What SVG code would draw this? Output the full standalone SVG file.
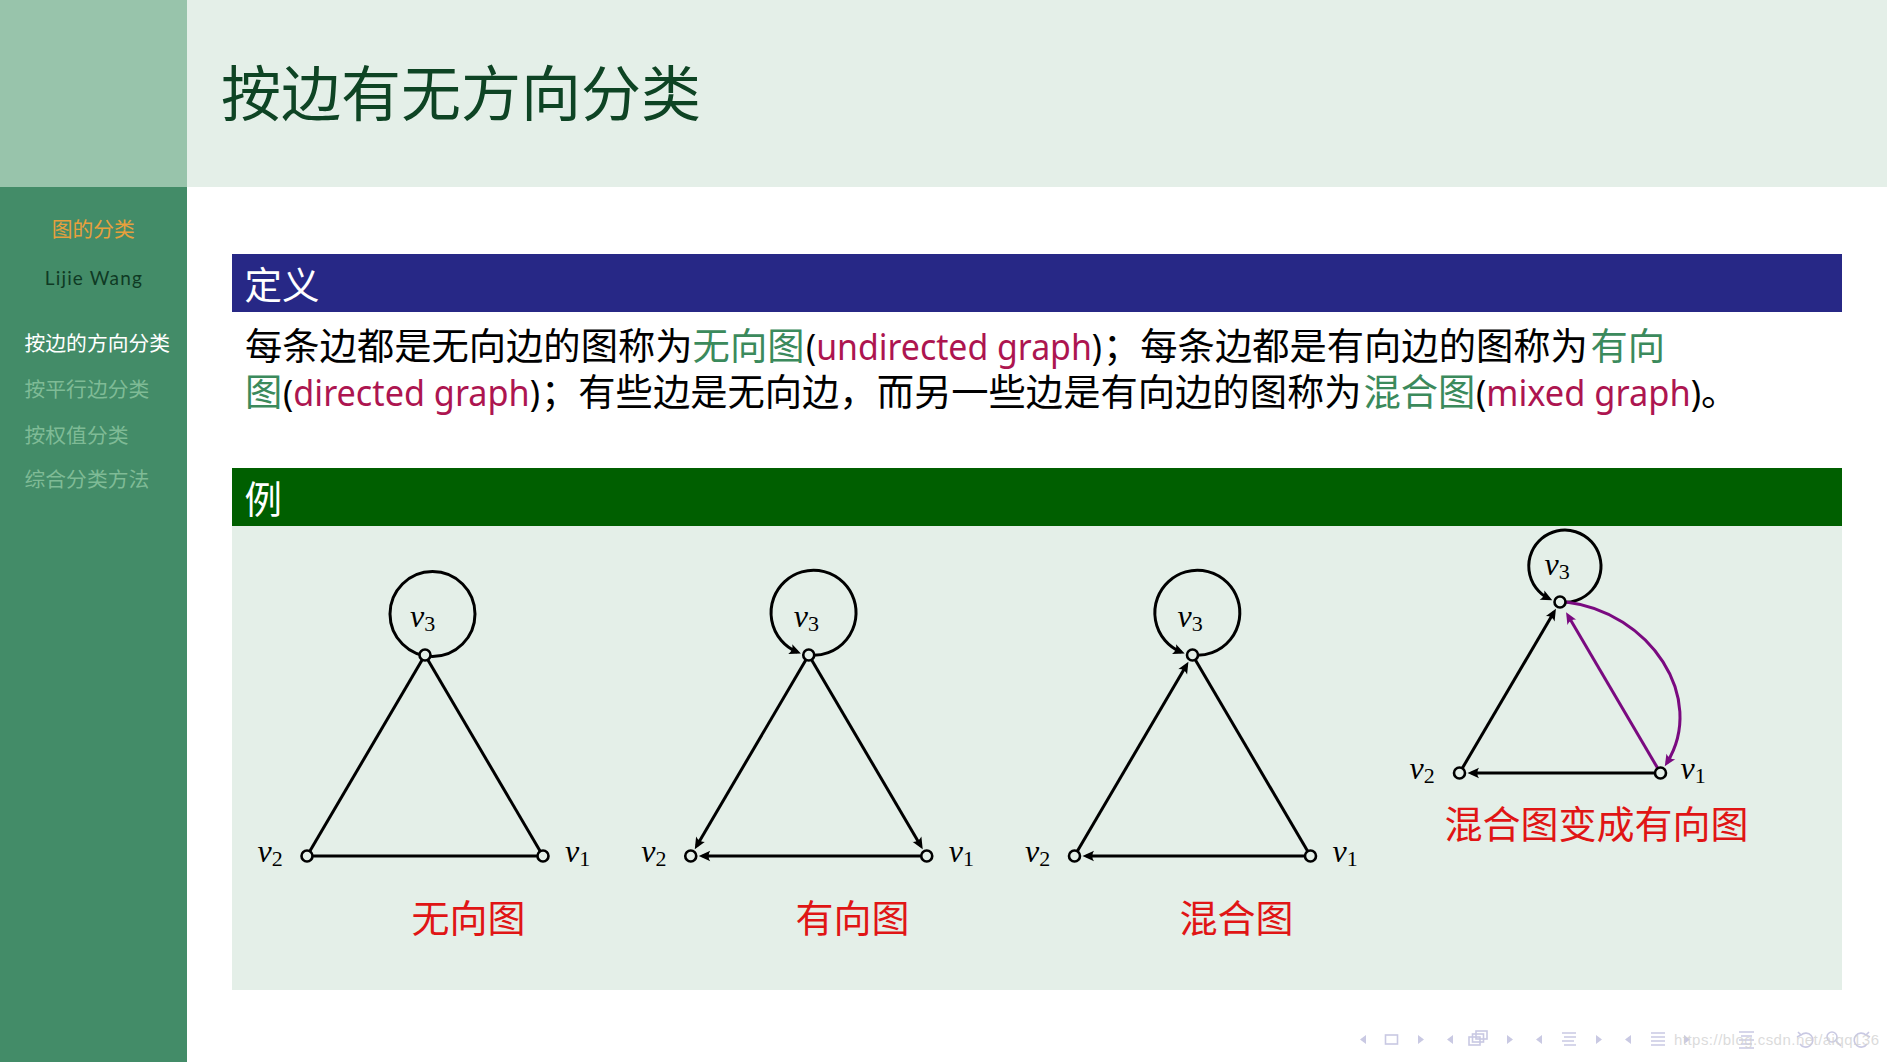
<svg xmlns="http://www.w3.org/2000/svg" width="1887" height="1062" viewBox="0 0 1887 1062">
<defs>
<style>
.cjk{font-family:"Noto Sans CJK SC","Noto Sans",sans-serif}
.lat{font-family:"Noto Sans","Noto Sans CJK SC",sans-serif}
.body{font-size:37.3px;fill:#000}
.gr{fill:#3b8a5c}
.al{fill:#ad1550}
.blk{fill:#000}
.side{font-size:20.8px}
.edge{fill:none;stroke:#000;stroke-width:3}
.pedge{fill:none;stroke:#7a0a80;stroke-width:3}
.node{fill:#e4efe8;stroke:#000;stroke-width:2.6}
.v{font-family:"Liberation Serif","DejaVu Serif",serif;font-style:italic;font-size:32px;fill:#000}
.sub{font-style:normal;font-size:22px}
.cap{font-family:"Noto Sans CJK SC",sans-serif;font-size:38px;fill:#e01515}
.nav{fill:#c9c9e3;stroke:none}
.navs{fill:none;stroke:#c9c9e3;stroke-width:1.6}
</style>
<marker id="ah" viewBox="-9 -7 15 14" refX="0" refY="0" markerWidth="15" markerHeight="14" markerUnits="userSpaceOnUse" orient="auto" overflow="visible">
<path d="M4,0 L-7.5,-5.2 Q-4,0 -7.5,5.2 Z" fill="#000"/>
</marker>
<marker id="ahp" viewBox="-9 -7 15 14" refX="0" refY="0" markerWidth="15" markerHeight="14" markerUnits="userSpaceOnUse" orient="auto" overflow="visible">
<path d="M4,0 L-7.5,-5.2 Q-4,0 -7.5,5.2 Z" fill="#7a0a80"/>
</marker>
</defs>

<!-- background -->
<rect x="0" y="0" width="1887" height="1062" fill="#ffffff"/>
<rect x="0" y="0" width="187" height="187" fill="#98c4ab"/>
<rect x="0" y="187" width="187" height="875" fill="#438c68"/>
<rect x="187" y="0" width="1700" height="187" fill="#e4efe8"/>

<!-- title -->
<text class="cjk" x="221" y="116" font-size="60" fill="#0e4424">按边有无方向分类</text>

<!-- sidebar -->
<g id="sidebar">
<text class="cjk side" x="93.3" y="236.5" text-anchor="middle" fill="#e8a03c">图的分类</text>
<text x="93.3" y="285" text-anchor="middle" font-family="Lato,'Noto Sans',sans-serif" font-size="19" fill="#0f3a24" textLength="97">Lijie Wang</text>
<text class="cjk side" x="24.5" y="351" fill="#ffffff">按边的方向分类</text>
<text class="cjk side" x="24.5" y="397" fill="#7fbb96">按平行边分类</text>
<text class="cjk side" x="24.5" y="442.5" fill="#7fbb96">按权值分类</text>
<text class="cjk side" x="24.5" y="487" fill="#7fbb96">综合分类方法</text>
</g>

<!-- definition block -->
<g id="definition">
<rect x="232" y="254" width="1610" height="58" fill="#272886"/>
<text class="cjk" x="244.5" y="299" font-size="37.5" fill="#ffffff">定义</text>
<text class="cjk body" x="245" y="360">每条边都是无向边的图称为</text>
<text class="cjk body gr" x="692.6" y="360">无向图</text>
<text class="lat body al" x="806" y="360" textLength="296" lengthAdjust="spacingAndGlyphs"><tspan class="blk">(</tspan>undirected graph<tspan class="blk">)</tspan></text>
<text class="cjk body" x="1103" y="360">；每条边都是有向边的图称为</text>
<text class="cjk body gr" x="1590.5" y="360">有向</text>
<text class="cjk body gr" x="245" y="406">图</text>
<text class="lat body al" x="283" y="406" textLength="257" lengthAdjust="spacingAndGlyphs"><tspan class="blk">(</tspan>directed graph<tspan class="blk">)</tspan></text>
<text class="cjk body" x="541" y="406">；有些边是无向边，而另一些边是有向边的图称为</text>
<text class="cjk body gr" x="1363.5" y="406">混合图</text>
<text class="lat body al" x="1476" y="406" textLength="225" lengthAdjust="spacingAndGlyphs"><tspan class="blk">(</tspan>mixed graph<tspan class="blk">)</tspan></text>
<text class="cjk body" x="1701" y="406">。</text>
</g>

<!-- example block -->
<g id="example">
<rect x="232" y="468" width="1610" height="58" fill="#005f00"/>
<text class="cjk" x="244.5" y="513" font-size="37.5" fill="#ffffff">例</text>
<rect x="232" y="526" width="1610" height="464" fill="#e4efe8"/>
</g>

<!-- connectors -->
<g id="connectors">
<!-- graph 1: undirected -->
<circle class="edge" cx="432.5" cy="614" r="42.5"/>
<line class="edge" x1="425" y1="655" x2="307" y2="856"/>
<line class="edge" x1="425" y1="655" x2="543" y2="856"/>
<line class="edge" x1="543" y1="856" x2="307" y2="856"/>
<!-- graph 2: directed -->
<path class="edge" d="M808.75,655 A42.5,42.5 0 1 0 797.2,652" marker-end="url(#ah)"/>
<line class="edge" x1="808.75" y1="655" x2="696.8" y2="845.7" marker-end="url(#ah)"/>
<line class="edge" x1="808.75" y1="655" x2="920.7" y2="845.7" marker-end="url(#ah)"/>
<line class="edge" x1="926.75" y1="856" x2="702.75" y2="856" marker-end="url(#ah)"/>
<!-- graph 3: mixed -->
<path class="edge" d="M1192.5,655 A42.5,42.5 0 1 0 1180.97,652" marker-end="url(#ah)"/>
<line class="edge" x1="1074.5" y1="856" x2="1186.4" y2="665.3" marker-end="url(#ah)"/>
<line class="edge" x1="1192.5" y1="655" x2="1310.5" y2="856"/>
<line class="edge" x1="1310.5" y1="856" x2="1086.5" y2="856" marker-end="url(#ah)"/>
<!-- graph 4: mixed to directed -->
<path class="edge" d="M1560,602 A36.1,36.1 0 1 0 1548.7,598.5" marker-end="url(#ah)"/>
<line class="edge" x1="1459.5" y1="773" x2="1553.9" y2="612.3" marker-end="url(#ah)"/>
<line class="edge" x1="1660.5" y1="773" x2="1471.5" y2="773" marker-end="url(#ah)"/>
<line class="pedge" x1="1660.5" y1="773" x2="1568.1" y2="615.8" marker-end="url(#ahp)"/>
<path class="pedge" d="M1566,602 C1650,612 1707,698 1666.9,762.8" marker-end="url(#ahp)"/>
</g>

<!-- nodes graph 1 -->
<g id="g1-v3"><circle class="node" cx="425" cy="655" r="5.5"/><text class="v" x="410" y="627">v<tspan class="sub" dy="4">3</tspan></text></g>
<g id="g1-v2"><circle class="node" cx="307" cy="856" r="5.5"/><text class="v" x="257.5" y="862">v<tspan class="sub" dy="4">2</tspan></text></g>
<g id="g1-v1"><circle class="node" cx="543" cy="856" r="5.5"/><text class="v" x="565" y="862">v<tspan class="sub" dy="4">1</tspan></text></g>
<!-- nodes graph 2 -->
<g id="g2-v3"><circle class="node" cx="808.75" cy="655" r="5.5"/><text class="v" x="793.8" y="627">v<tspan class="sub" dy="4">3</tspan></text></g>
<g id="g2-v2"><circle class="node" cx="690.75" cy="856" r="5.5"/><text class="v" x="641.3" y="862">v<tspan class="sub" dy="4">2</tspan></text></g>
<g id="g2-v1"><circle class="node" cx="926.75" cy="856" r="5.5"/><text class="v" x="948.8" y="862">v<tspan class="sub" dy="4">1</tspan></text></g>
<!-- nodes graph 3 -->
<g id="g3-v3"><circle class="node" cx="1192.5" cy="655" r="5.5"/><text class="v" x="1177.5" y="627">v<tspan class="sub" dy="4">3</tspan></text></g>
<g id="g3-v2"><circle class="node" cx="1074.5" cy="856" r="5.5"/><text class="v" x="1025" y="862">v<tspan class="sub" dy="4">2</tspan></text></g>
<g id="g3-v1"><circle class="node" cx="1310.5" cy="856" r="5.5"/><text class="v" x="1332.5" y="862">v<tspan class="sub" dy="4">1</tspan></text></g>
<!-- nodes graph 4 -->
<g id="g4-v3"><circle class="node" cx="1560" cy="602" r="5.5"/><text class="v" x="1544.5" y="575">v<tspan class="sub" dy="4">3</tspan></text></g>
<g id="g4-v2"><circle class="node" cx="1459.5" cy="773" r="5.5"/><text class="v" x="1409.5" y="779">v<tspan class="sub" dy="4">2</tspan></text></g>
<g id="g4-v1"><circle class="node" cx="1660.5" cy="773" r="5.5"/><text class="v" x="1680.5" y="779">v<tspan class="sub" dy="4">1</tspan></text></g>

<!-- captions -->
<g id="captions">
<text class="cap" x="411.5" y="932">无向图</text>
<text class="cap" x="795.5" y="932">有向图</text>
<text class="cap" x="1179.5" y="932">混合图</text>
<text class="cap" x="1444.5" y="838">混合图变成有向图</text>
</g>

<!-- navigation -->
<g id="navigation">
<path class="nav" d="M1366,1035 L1360,1039.5 L1366,1044 Z"/>
<rect class="navs" x="1385.5" y="1035" width="12" height="9"/>
<path class="nav" d="M1418,1035 L1424,1039.5 L1418,1044 Z"/>
<path class="nav" d="M1453,1035 L1447,1039.5 L1453,1044 Z"/>
<rect class="navs" x="1476" y="1031" width="11" height="8"/>
<rect class="navs" x="1472.5" y="1034" width="11" height="8" fill="#ffffff"/>
<rect class="navs" x="1469" y="1037" width="11" height="8" fill="#ffffff"/>
<path class="nav" d="M1507,1035 L1513,1039.5 L1507,1044 Z"/>
<path class="nav" d="M1542,1035 L1536,1039.5 L1542,1044 Z"/>
<path class="navs" d="M1562,1033 H1576 M1564,1037 H1576 M1562,1041 H1574 M1564,1045 H1576"/>
<path class="nav" d="M1596,1035 L1602,1039.5 L1596,1044 Z"/>
<path class="nav" d="M1631,1035 L1625,1039.5 L1631,1044 Z"/>
<path class="navs" d="M1651,1033 H1665 M1651,1037 H1665 M1651,1041 H1665 M1651,1045 H1665"/>
<path class="nav" d="M1684,1035 L1690,1039.5 L1684,1044 Z"/>
<path class="navs" d="M1739,1032 H1754 M1741,1036 H1752 M1739,1040 H1754 M1741,1044 H1752 M1739,1048 H1754"/>
<path class="navs" d="M1801,1035 A7,7 0 1 1 1800,1044 M1798,1032 L1801,1035 L1797,1037"/>
<circle class="navs" cx="1832" cy="1037" r="5"/>
<path class="navs" d="M1836,1041 L1841,1046"/>
<path class="navs" d="M1866,1035 A7,7 0 1 0 1867,1044 M1869,1032 L1866,1035 L1870,1037"/>
<text x="1674" y="1045" font-family="'Liberation Sans',sans-serif" font-size="15" fill="#d2d2d2" fill-opacity="0.8" textLength="205">https://blog.csdn.net/aiqq136</text>
</g>
</svg>
